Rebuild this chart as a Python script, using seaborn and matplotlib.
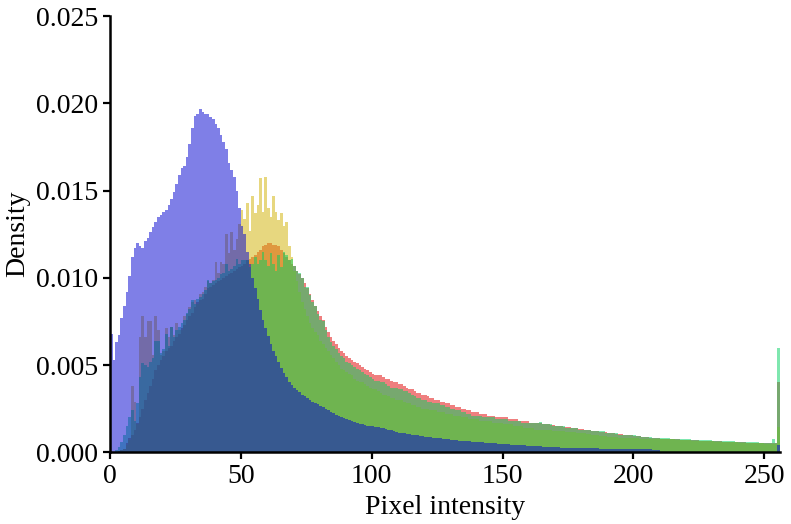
import numpy as np
import pandas as pd
import matplotlib
matplotlib.use("Agg")
import matplotlib.pyplot as plt
import seaborn as sns

# bin heights per channel, density in units of 1e-5, bins 0..255
blue = [
    680, 530, 630, 670, 770, 840, 920, 1010, 1120, 1170, 1200, 1180, 1170, 1210, 1230, 1260,
    1290, 1320, 1350, 1360, 1380, 1390, 1420, 1450, 1490, 1540, 1590, 1630, 1640, 1690, 1770, 1860,
    1930, 1940, 1970, 1950, 1940, 1940, 1920, 1910, 1880, 1860, 1820, 1780, 1740, 1660, 1620, 1580,
    1500, 1400, 1300, 1250, 1150, 1080, 1000, 940, 880, 815, 760, 710, 665, 620, 580, 550,
    515, 485, 455, 430, 405, 385, 370, 355, 345, 330, 320, 310, 300, 290, 282, 275,
    265, 258, 248, 240, 232, 222, 216, 208, 202, 197, 190, 186, 180, 173, 169, 164,
    160, 157, 153, 150, 148, 146, 143, 140, 137, 133, 130, 126, 121, 117, 113, 110,
    108, 105, 103, 100, 98, 96, 94, 92, 90, 88, 86, 84, 82, 80, 79, 77,
    75, 74, 72, 70, 69, 67, 66, 65, 63, 62, 60, 59, 58, 57, 56, 55,
    54, 52, 51, 50, 49, 48, 47, 46, 45, 44, 43, 42, 41, 40, 39, 38,
    37, 36, 35, 34, 33, 32, 31, 30, 30, 29, 28, 28, 27, 27, 27, 26,
    26, 25, 25, 25, 24, 24, 23, 23, 22, 22, 22, 21, 21, 21, 20, 20,
    20, 19, 19, 19, 18, 18, 18, 18, 17, 17, 17, 17, 16, 16, 16, 15,
    15, 15, 2, 2, 2, 2, 2, 2, 2, 2, 2, 2, 2, 2, 2, 2,
    2, 2, 2, 2, 2, 2, 2, 2, 2, 2, 2, 2, 2, 2, 2, 2,
    2, 2, 2, 2, 2, 2, 2, 2, 2, 2, 2, 2, 2, 2, 2, 40,
]

red = [
    0, 0, 0, 5, 10, 20, 50, 80, 100, 130, 170, 200, 250, 300, 340, 380,
    420, 470, 500, 530, 550, 580, 600, 610, 640, 660, 680, 710, 730, 760, 780, 800,
    830, 860, 870, 880, 910, 940, 950, 960, 970, 980, 990, 1000, 1010, 1020, 1030, 1040,
    1050, 1060, 1070, 1080, 1100, 1110, 1120, 1130, 1150, 1160, 1180, 1190, 1200, 1200, 1190, 1190,
    1180, 1160, 1140, 1120, 1100, 1080, 1070, 1040, 1020, 1000, 970, 940, 910, 870, 840, 810,
    780, 760, 720, 690, 660, 640, 620, 600, 580, 570, 550, 540, 530, 520, 510, 500,
    490, 480, 470, 460, 450, 440, 440, 440, 430, 420, 420, 410, 400, 400, 390, 390,
    380, 370, 360, 360, 350, 340, 340, 330, 330, 320, 310, 310, 300, 300, 290, 290,
    280, 280, 270, 270, 260, 260, 250, 250, 240, 240, 230, 230, 230, 220, 220, 220,
    210, 210, 210, 200, 200, 200, 200, 200, 190, 190, 190, 190, 180, 180, 180, 180,
    170, 170, 170, 170, 165, 160, 160, 160, 158, 155, 152, 150, 148, 146, 144, 142,
    140, 138, 136, 134, 132, 130, 128, 126, 124, 122, 120, 118, 116, 114, 112, 110,
    108, 106, 104, 102, 100, 99, 98, 96, 95, 93, 91, 89, 87, 85, 83, 81,
    80, 79, 78, 77, 77, 76, 75, 75, 74, 73, 72, 71, 71, 70, 69, 69,
    68, 67, 67, 66, 65, 65, 64, 63, 63, 62, 61, 61, 60, 59, 59, 58,
    57, 57, 56, 55, 55, 54, 53, 53, 52, 52, 51, 51, 50, 50, 50, 400,
]

gold = [
    0, 0, 0, 5, 10, 20, 40, 70, 380, 290, 160, 660, 780, 660, 750, 750,
    560, 780, 700, 560, 580, 710, 660, 720, 670, 740, 700, 700, 780, 790, 830, 860,
    870, 850, 910, 920, 950, 980, 970, 990, 1090, 1030, 1090, 1080, 1250, 1140, 1260, 1160,
    1220, 1310, 1390, 1340, 1430, 1270, 1470, 1370, 1420, 1570, 1380, 1580, 1400, 1350, 1470, 1380,
    1330, 1370, 1300, 1320, 1180, 1120, 1040, 980, 920, 860, 820, 780, 740, 710, 690, 670,
    640, 620, 600, 580, 560, 540, 520, 500, 480, 470, 460, 450, 440, 420, 410, 400,
    400, 390, 380, 370, 360, 360, 350, 340, 330, 330, 320, 310, 310, 300, 300, 300,
    290, 280, 280, 270, 270, 260, 260, 250, 250, 250, 240, 240, 240, 230, 230, 230,
    220, 220, 220, 210, 210, 210, 200, 200, 200, 190, 190, 190, 190, 180, 180, 180,
    180, 180, 170, 170, 170, 170, 160, 160, 160, 160, 150, 150, 150, 150, 140, 140,
    140, 140, 130, 130, 130, 130, 130, 127, 126, 124, 123, 121, 120, 119, 118, 116,
    115, 114, 113, 111, 110, 108, 106, 103, 101, 98, 96, 94, 92, 91, 90, 88,
    87, 85, 84, 83, 82, 81, 80, 80, 80, 79, 78, 76, 75, 74, 73, 73,
    73, 77, 76, 75, 75, 74, 73, 73, 72, 71, 70, 69, 69, 68, 67, 67,
    66, 65, 65, 64, 63, 63, 62, 61, 61, 60, 59, 59, 58, 57, 57, 56,
    55, 55, 54, 53, 53, 52, 51, 51, 50, 50, 49, 49, 48, 48, 48, 145,
]

green = [
    0, 0, 10, 30, 60, 100, 150, 200, 240, 180, 280, 430, 510, 500, 490, 520,
    540, 640, 640, 570, 590, 680, 610, 720, 660, 700, 720, 740, 760, 800, 820, 870,
    850, 880, 890, 910, 930, 990, 970, 980, 990, 1000, 1020, 1030, 1080, 1040, 1050, 1070,
    1110, 1080, 1100, 1100, 1100, 1060, 1080, 1120, 1080, 1100, 1150, 1100, 1070, 1140, 1080, 1040,
    1130, 1060, 1150, 1130, 1100, 1110, 1070, 1040, 1030, 1000, 950, 950, 900, 860, 840, 790,
    760, 750, 700, 660, 630, 610, 590, 570, 550, 540, 520, 510, 500, 490, 480, 470,
    460, 450, 440, 430, 420, 410, 410, 400, 400, 390, 380, 370, 370, 370, 360, 360,
    350, 350, 340, 330, 320, 310, 310, 300, 300, 290, 290, 280, 280, 280, 270, 270,
    260, 260, 250, 250, 240, 240, 230, 230, 220, 220, 210, 210, 210, 210, 200, 200,
    200, 200, 200, 190, 190, 190, 190, 190, 180, 180, 180, 180, 180, 170, 170, 170,
    170, 170, 170, 170, 172, 160, 160, 160, 160, 150, 150, 150, 150, 150, 140, 140,
    140, 140, 140, 130, 130, 130, 130, 130, 120, 120, 120, 120, 120, 110, 110, 110,
    110, 110, 100, 100, 100, 100, 100, 98, 96, 94, 92, 90, 88, 86, 85, 84,
    83, 82, 81, 80, 80, 79, 78, 78, 77, 76, 75, 74, 74, 73, 72, 72,
    71, 70, 70, 69, 68, 68, 67, 66, 66, 65, 64, 64, 63, 62, 62, 61,
    60, 60, 59, 58, 58, 57, 56, 56, 55, 55, 54, 54, 53, 75, 53, 600,
]

colors = ["#e10000", "#d1b100", "#00d161", "#0000d1"]

unit = 1e-5
intensity = np.arange(256) + 0.5

sns.set_style("ticks")
plt.rcParams["font.family"] = ["Liberation Serif", "DejaVu Serif"]
plt.rcParams["text.color"] = "black"
plt.rcParams["axes.labelcolor"] = "black"

fig, ax = plt.subplots(figsize=(7.91, 5.24), dpi=100)
fig.subplots_adjust(left=0.139, right=0.986, top=0.969, bottom=0.137)

# red first, blue last (blue sits on top)
for vals, col in zip([red, gold, green, blue], colors):
    df = pd.DataFrame({"intensity": intensity, "density": np.array(vals) * unit})
    sns.histplot(data=df, x="intensity", weights="density", binwidth=1, binrange=(0, 256),
                 color=col, alpha=0.5, linewidth=0, antialiased=False, ax=ax)

ax.set_xlim(0, 256)
ax.set_ylim(0, 0.025)
ax.set_xticks([0, 50, 100, 150, 200, 250])
ax.set_yticks([0, 0.005, 0.010, 0.015, 0.020, 0.025])
ax.set_xlabel("Pixel intensity", fontsize=20, color="black")
ax.set_ylabel("Density", fontsize=20, color="black")
ax.tick_params(labelsize=20, width=1.6, length=5, colors="black", labelcolor="black")
for s in ["left", "bottom"]:
    ax.spines[s].set_linewidth(1.8)
    ax.spines[s].set_color("black")
sns.despine(ax=ax)

fig.savefig("out.png", dpi=100)
